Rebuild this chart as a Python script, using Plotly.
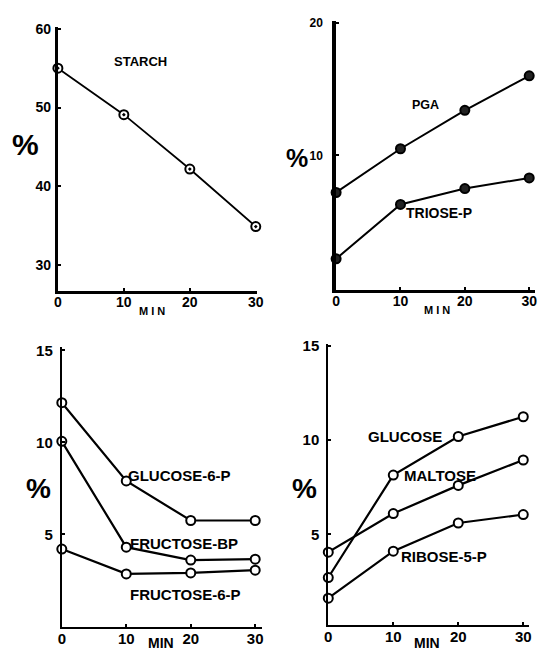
import plotly.graph_objects as go

W, H = 542, 652

# ---- data ----
t = [0, 10, 20, 30]
starch = [55.0, 49.1, 42.2, 34.9]
pga = [7.2, 10.5, 13.4, 16.0]
triose_p = [2.2, 6.3, 7.5, 8.3]
glucose_6_p = [12.15, 7.9, 5.75, 5.75]
fructose_bp = [10.05, 4.3, 3.6, 3.65]
fructose_6_p = [4.2, 2.85, 2.9, 3.05]
glucose = [2.7, 8.15, 10.2, 11.25]
maltose = [4.05, 6.1, 7.6, 8.95]
ribose_5_p = [1.6, 4.1, 5.6, 6.05]

x_ticks = [0, 10, 20, 30]
y_ticks_1 = [30, 40, 50, 60]
y_ticks_2 = [10, 20]
y_ticks_3 = [5, 10, 15]
y_ticks_4 = [5, 10, 15]


def px(x):
    return x / W


def py(y):
    return 1 - y / H


def dx(a, b):
    return [a / W, b / W]


def dy(top, bottom):
    return [1 - bottom / H, 1 - top / H]


NARROW = "Liberation Sans Narrow, Arial Narrow, Liberation Sans, sans-serif"
SANS = "Liberation Sans, Arial, sans-serif"

fig = go.Figure()

dot_marker = dict(symbol="circle-dot", size=9, color="white",
                  line=dict(color="black", width=2))
fill_marker = dict(symbol="circle", size=9, color="#222",
                   line=dict(color="black", width=2))
open_marker = dict(symbol="circle", size=9, color="white",
                   line=dict(color="black", width=2))

fig.add_trace(go.Scatter(x=t, y=starch, mode="lines+markers", xaxis="x", yaxis="y",
                         line=dict(color="black", width=1.8), marker=dot_marker, cliponaxis=False))
fig.add_trace(go.Scatter(x=t, y=pga, mode="lines+markers", xaxis="x2", yaxis="y2",
                         line=dict(color="black", width=2), marker=fill_marker, cliponaxis=False))
fig.add_trace(go.Scatter(x=t, y=triose_p, mode="lines+markers", xaxis="x2", yaxis="y2",
                         line=dict(color="black", width=2), marker=fill_marker, cliponaxis=False))
for s in (glucose_6_p, fructose_bp, fructose_6_p):
    fig.add_trace(go.Scatter(x=t, y=s, mode="lines+markers", xaxis="x3", yaxis="y3",
                             line=dict(color="black", width=2.2), marker=open_marker, cliponaxis=False))
for s in (glucose, maltose, ribose_5_p):
    fig.add_trace(go.Scatter(x=t, y=s, mode="lines+markers", xaxis="x4", yaxis="y4",
                             line=dict(color="black", width=2.2), marker=open_marker, cliponaxis=False))


def xax(domain, rng, anchor, font, lw):
    return dict(domain=domain, range=rng, anchor=anchor, tickvals=x_ticks,
                showgrid=False, zeroline=False, showline=True, linecolor="black",
                linewidth=lw, ticks="inside", ticklen=3, tickwidth=1.5, tickcolor="black",
                tickfont=font, ticklabelstandoff=-3, fixedrange=True)


def yax(domain, rng, anchor, vals, font, lw, standoff):
    return dict(domain=domain, range=rng, anchor=anchor, tickvals=vals,
                showgrid=False, zeroline=False, showline=True, linecolor="black",
                linewidth=lw, ticks="inside", ticklen=3, tickwidth=1.5, tickcolor="black",
                tickfont=font, ticklabelstandoff=standoff, fixedrange=True)


f1 = dict(family=NARROW, size=14, color="black", weight="bold")
f2 = dict(family=NARROW, size=12, color="black", weight="bold")
f3 = dict(family=SANS, size=15, color="black", weight="bold")

fig.update_layout(
    width=W, height=H, margin=dict(l=0, r=0, t=0, b=0),
    paper_bgcolor="white", plot_bgcolor="white", showlegend=False,
    xaxis=xax(dx(55, 258), [0, 30.15], "y", f1, 2.5),
    yaxis=yax(dy(20, 287), [26.74, 60.25], "x", y_ticks_1, f1, 3, 1),
    xaxis2=xax(dx(339, 542), [0, 30.9], "y2", f1, 2.5),
    yaxis2=yax(dy(14, 286), [-0.15, 20.15], "x2", y_ticks_2, f2, 3.5, 7),
    xaxis3=xax(dx(59, 263), [0, 31.0], "y3", f3, 2),
    yaxis3=yax(dy(344, 627), [-0.05, 15.16], "x3", y_ticks_3, f3, 2, 4),
    xaxis4=xax(dx(331, 536), [0, 30.9], "y4", f3, 2),
    yaxis4=yax(dy(341, 625), [0.16, 15.1], "x4", y_ticks_4, f3, 2, 4),
)

ann = []


def label(text, x, y, size, anchor="center", bold=True, family=SANS):
    ann.append(dict(text=text, x=px(x), y=py(y), xref="paper", yref="paper",
                    xanchor=anchor, yanchor="middle", showarrow=False,
                    font=dict(family=family, size=size, color="black",
                              weight="bold" if bold else "normal")))


label("STARCH", 139, 55, 13)
label("PGA", 430, 99, 12.5)
label("TRIOSE-P", 444, 208, 14)
label("GLUCOSE-6-P", 125, 474, 15, anchor="left")
label("FRUCTOSE-BP", 127, 542, 15, anchor="left")
label("FRUCTOSE-6-P", 127, 594, 15, anchor="left")
label("GLUCOSE", 370, 434, 15, anchor="left")
label("MALTOSE", 406, 474, 15, anchor="left")
label("RIBOSE-5-P", 403, 555, 15, anchor="left")

label("%", 22, 139, 30, family=NARROW)
label("%", 299, 153, 25, family=NARROW)
label("%", 35, 487, 28, family=NARROW)
label("%", 307, 487, 28, family=NARROW)

label("M I N", 151, 307, 11)
label("M I N", 442, 306, 11)
label("MIN", 160, 643, 14)
label("MIN", 432, 643, 14)

fig.update_layout(annotations=ann)

fig.write_html(
    "out.html",
    config={"displayModeBar": False},
    post_script="document.body.style.margin='0';document.body.style.overflow='hidden';",
)
